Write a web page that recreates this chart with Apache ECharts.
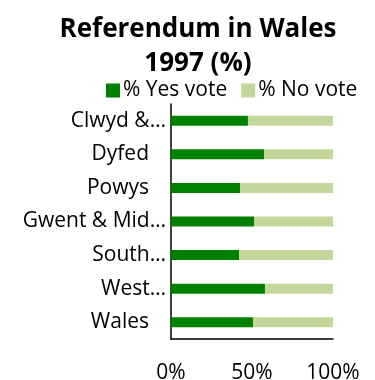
<!DOCTYPE html>
<html>
<head>
<meta charset="utf-8">
<script src="https://cdn.jsdelivr.net/npm/echarts@6/dist/echarts.min.js"></script>
<style>
  html, body { margin: 0; padding: 0; background: #fff; }
  #chart { width: 375px; height: 380px; }
</style>
</head>
<body>
<div id="chart"></div>
<script>
// data
const regions = ['Clwyd & Gwynedd', 'Dyfed', 'Powys', 'Gwent & Mid Glamorgan', 'South Glamorgan', 'West Glamorgan', 'Wales']
const yesVote = [47.5, 57.4, 42.6, 51.4, 42.0, 58.0, 50.6]
const noVote = yesVote.map(v => +(100 - v).toFixed(1))
const xTicks = [0, 50, 100]

const FONT = '"Open Sans", "Noto Sans", sans-serif'
const labelFont = '21px "Open Sans"'
const maxLabelW = 152

// measure helper for excel style word truncation
let ctx = document.createElement('canvas').getContext('2d')
ctx.font = labelFont
function shortLabel (name) {
  if (ctx.measureText(name).width <= maxLabelW) {
    return '{n|' + name + '}{p|}'
  }
  let words = name.split(' ')
  let out = words[0]
  for (let i = 1; i < words.length; i++) {
    let next = out + ' ' + words[i]
    if (ctx.measureText(next).width > maxLabelW) break
    out = next
  }
  return '{n|' + out + '…}'
}

let chart = echarts.init(document.getElementById('chart'))
chart.setOption({
  animation: false,
  textStyle: { fontFamily: FONT },
  title: {
    text: 'Referendum in Wales\n1997 (%)',
    left: 193,
    textAlign: 'center',
    top: 8,
    textStyle: {
      fontSize: 26,
      fontWeight: 'bold',
      color: '#000',
      lineHeight: 34,
      fontFamily: FONT
    }
  },
  legend: {
    left: 101,
    top: 75,
    itemWidth: 14,
    itemHeight: 14,
    itemGap: 14,
    icon: 'rect',
    textStyle: { fontSize: 21, color: '#000', padding: [0, 0, 0, -2] },
    data: ['% Yes vote', '% No vote']
  },
  grid: {
    left: 171,
    right: 42,
    top: 104,
    bottom: 41,
    containLabel: false,
    outerBoundsMode: 'none'
  },
  xAxis: {
    type: 'value',
    min: xTicks[0],
    max: xTicks[xTicks.length - 1],
    interval: 50,
    axisLine: { show: true, lineStyle: { color: '#000', width: 1.5 } },
    axisTick: { show: false },
    splitLine: { show: false },
    axisLabel: {
      margin: 24,
      fontSize: 21,
      color: '#000',
      formatter: '{value}%'
    }
  },
  yAxis: {
    type: 'category',
    inverse: true,
    data: regions,
    axisLine: { show: true, lineStyle: { color: '#000', width: 1.5 } },
    axisTick: { show: false },
    axisLabel: {
      margin: 5,
      color: '#000',
      formatter: shortLabel,
      rich: {
        n: { fontSize: 21, color: '#000', fontFamily: FONT },
        p: { width: 17 }
      }
    }
  },
  series: [
    {
      name: '% Yes vote',
      type: 'bar',
      stack: 'vote',
      barWidth: 10,
      itemStyle: { color: '#008000' },
      data: yesVote
    },
    {
      name: '% No vote',
      type: 'bar',
      stack: 'vote',
      barWidth: 10,
      itemStyle: { color: '#c4d79b' },
      data: noVote
    }
  ]
})
</script>
</body>
</html>
